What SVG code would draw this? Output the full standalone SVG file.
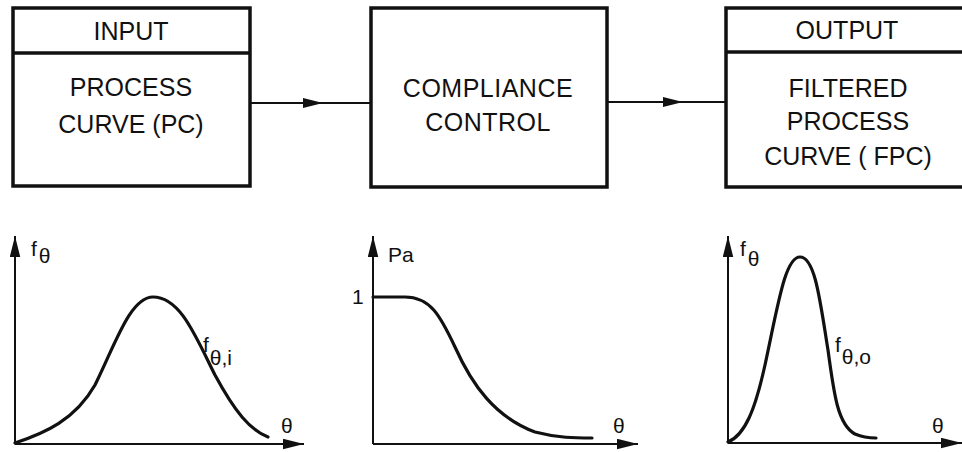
<svg xmlns="http://www.w3.org/2000/svg" width="962" height="452" viewBox="0 0 962 452">
<defs>
<marker id="ah" viewBox="0 0 20 10" refX="20" refY="5" markerWidth="20" markerHeight="10" markerUnits="userSpaceOnUse" orient="auto">
<path d="M0,0 L20,5 L0,10 Z" fill="#111"/>
</marker>
<marker id="ax" viewBox="0 0 20 10" refX="20" refY="5" markerWidth="21" markerHeight="11" markerUnits="userSpaceOnUse" orient="auto">
<path d="M0,0 L20,5 L0,10 Z" fill="#111"/>
</marker>
</defs>
<style>
.box{fill:#fff;stroke:#111;stroke-width:3.5}
.t{font-family:"Liberation Sans",Arial,sans-serif;font-size:25px;fill:#111;text-anchor:middle}
.l{font-family:"Liberation Sans",Arial,sans-serif;font-size:21px;fill:#111}
.axis{stroke:#111;stroke-width:2;fill:none}
.curve{stroke:#111;stroke-width:3.2;fill:none;stroke-linecap:round}
.conn{stroke:#111;stroke-width:2.2;fill:none}
</style>
<rect width="962" height="452" fill="#fff"/>
<g id="input">
<rect class="box" x="13" y="8" width="237" height="178"/>
<line class="box" x1="13" y1="53" x2="250" y2="53"/>
<text class="t" x="131" y="40">INPUT</text>
<text class="t" x="131" y="96">PROCESS</text>
<text class="t" x="131" y="133">CURVE (PC)</text>
</g>
<g id="compliance">
<rect class="box" x="371" y="8" width="236" height="179"/>
<text class="t" x="488" y="97" letter-spacing="0.5">COMPLIANCE</text>
<text class="t" x="488" y="131" letter-spacing="0.5">CONTROL</text>
</g>
<g id="output">
<rect class="box" x="726" y="8" width="250" height="179"/>
<line class="box" x1="726" y1="52" x2="976" y2="52"/>
<text class="t" x="847" y="39">OUTPUT</text>
<text class="t" x="848" y="97">FILTERED</text>
<text class="t" x="848" y="130">PROCESS</text>
<text class="t" x="848" y="165">CURVE ( FPC)</text>
</g>
<g id="connectors">
<line class="conn" x1="250" y1="103" x2="323" y2="103" marker-end="url(#ah)"/>
<line class="conn" x1="322" y1="103" x2="371" y2="103"/>
<line class="conn" x1="607" y1="102" x2="683" y2="102" marker-end="url(#ah)"/>
<line class="conn" x1="682" y1="102" x2="726" y2="102"/>
</g>
<g id="graph-input">
<line class="axis" x1="15" y1="444" x2="15" y2="236" marker-end="url(#ax)"/>
<line class="axis" x1="15" y1="444" x2="304" y2="444" marker-end="url(#ax)"/>
<path class="curve" d="M15,443 C45,433 75,420 95,385 C115,345 130,297 153,297 C180,297 195,335 215,375 C235,412 250,430 268,437"/>
<text class="l" x="31" y="256">f<tspan dx="2" dy="7">θ</tspan></text>
<text class="l" x="203" y="352">f<tspan dx="1" dy="13">θ,i</tspan></text>
<text class="l" x="281" y="433">θ</text>
</g>
<g id="graph-compliance">
<line class="axis" x1="373" y1="444" x2="373" y2="236" marker-end="url(#ax)"/>
<line class="axis" x1="373" y1="444" x2="638" y2="444" marker-end="url(#ax)"/>
<path class="curve" d="M373,297 L405,297 C430,297 440,315 455,347 C472,385 495,417 535,432 C558,438 575,438 592,438"/>
<text class="l" x="388" y="262">Pa</text>
<text class="l" x="352" y="304">1</text>
<text class="l" x="613" y="433">θ</text>
</g>
<g id="graph-output">
<line class="axis" x1="728" y1="443" x2="728" y2="236" marker-end="url(#ax)"/>
<line class="axis" x1="728" y1="443" x2="962" y2="443" marker-end="url(#ax)"/>
<path class="curve" d="M728,442 C745,435 755,410 765,365 C778,305 785,257 800,257 C815,257 820,300 828,350 C834,395 838,425 855,434 C862,437 868,438 876,438"/>
<text class="l" x="740" y="256">f<tspan dx="2" dy="10">θ</tspan></text>
<text class="l" x="835" y="352">f<tspan dx="1" dy="12">θ,o</tspan></text>
<text class="l" x="932" y="433">θ</text>
</g>
</svg>
